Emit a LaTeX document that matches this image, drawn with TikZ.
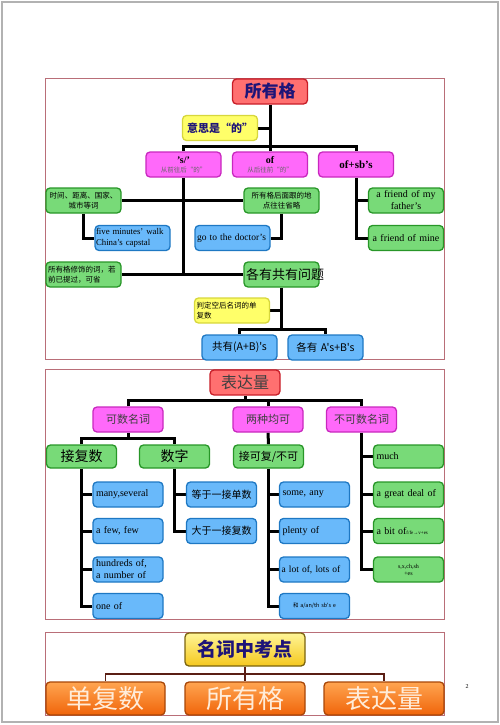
\documentclass[tikz,border=0pt]{standalone}
\usepackage{fontspec}
\setmainfont{Liberation Serif}
\newfontfamily\cjk{Noto Sans CJK SC}
\usetikzlibrary{backgrounds}
\definecolor{titlered}{RGB}{255,112,112}
\definecolor{titleline}{RGB}{200,30,40}
\definecolor{pinkfill}{RGB}{255,105,250}
\definecolor{pinkline}{RGB}{200,40,190}
\definecolor{greenfill}{RGB}{120,218,120}
\definecolor{greenline}{RGB}{40,150,40}
\definecolor{bluefill}{RGB}{105,185,250}
\definecolor{blueline}{RGB}{30,120,195}
\definecolor{yelfill}{RGB}{255,255,105}
\definecolor{yelline}{RGB}{215,215,60}
\definecolor{navy}{RGB}{30,20,120}
\definecolor{framered}{RGB}{185,110,120}
\definecolor{orangetop}{RGB}{255,165,80}
\definecolor{orangebot}{RGB}{240,100,10}
\definecolor{goldtop}{RGB}{255,245,150}
\definecolor{goldbot}{RGB}{245,200,30}
\definecolor{brownline}{RGB}{90,30,20}

\begin{document}
\begin{tikzpicture}[x=1pt, y=-1pt,
  base/.style={rounded corners=4pt, line width=1.3pt, inner sep=1.5pt, minimum width=75pt, minimum height=25pt, text width=71pt},
  titlebox/.style={base, draw=titleline, fill=titlered, align=center},
  pinkbox/.style={base, draw=pinkline, fill=pinkfill, align=center},
  greenbox/.style={base, draw=greenline, fill=greenfill, align=center},
  bluebox/.style={base, draw=blueline, fill=bluefill, align=left},
  yelbox/.style={base, draw=yelline, fill=yelfill, align=left},
  orangebox/.style={base, draw=orangebot!70!black, top color=orangetop, bottom color=orangebot, align=center, minimum width=120pt, minimum height=33pt, text width=114pt, text=orange!15, font=\cjk\fontsize{26}{28}\selectfont},
  link/.style={line width=3pt},
  thinlink/.style={line width=1.8pt, draw=brownline},
  frame/.style={draw=framered, line width=0.9pt},
  small/.style={font=\cjk\fontsize{7.5}{10}\selectfont},
  eng/.style={font=\fontsize{10}{12}\selectfont}
]
  \useasboundingbox (0,0) rectangle (500,725);
  \draw[gray!60, line width=2pt] (2,2) rectangle (498,722);
  \draw[frame] (45,78) rectangle (444,359);
  \draw[frame] (45,369) rectangle (444,619);
  \draw[frame] (45,632) rectangle (444,715);
  \node[font=\fontsize{6}{7}\selectfont] (pagenum) at (467,687) {2};

  \node[titlebox, text=navy, font=\cjk\fontsize{17}{20}\selectfont\bfseries] (poss) at (270,91.5) {所有格};
  \node[yelbox, align=center, text=navy, font=\cjk\fontsize{11}{13}\selectfont\bfseries] (meaning) at (220,128) {意思是“的”};
  \node[pinkbox, font=\fontsize{10}{10}\selectfont\bfseries] (sprime) at (183.5,164.5) {'s/'\\[-1pt]{\cjk\mdseries\fontsize{6.5}{8}\selectfont\color{black!60}从前往后“的”}};
  \node[pinkbox, font=\fontsize{10}{10}\selectfont\bfseries] (ofnode) at (270,164.5) {of\\[-1pt]{\cjk\mdseries\fontsize{6.5}{8}\selectfont\color{black!60}从后往前“的”}};
  \node[pinkbox, font=\fontsize{11}{12}\selectfont\bfseries] (ofsb) at (356,164.5) {of+sb's};
  \node[greenbox, small] (timeword) at (83.5,200.5) {时间、距离、国家、\\城市等词};
  \node[greenbox, small] (placeword) at (281.5,200.5) {所有格后面跟的地\\点往往省略};
  \node[greenbox, eng] (friendmy) at (406,200.5) {a friend of my\\father's};
  \node[bluebox, inner sep=1pt, text width=73pt, font=\fontsize{8.8}{11}\selectfont] (walk) at (132.5,238) {five minutes' walk\\China's capstal};
  \node[bluebox, font=\fontsize{9.5}{11}\selectfont] (doctor) at (232.5,238) {go to the doctor's\\[6pt]};
  \node[greenbox, eng] (friendmine) at (406,238) {a friend of mine\\[6pt]};
  \node[greenbox, small, align=left] (omitword) at (83.5,274.5) {所有格修饰的词，若\\前已提过，可省};
  \node[greenbox, font=\cjk\fontsize{13}{15}\selectfont] (eachboth) at (281.5,274.5) {各有共有问题};
  \node[yelbox, small] (judge) at (232,310.5) {判定空后名词的单\\复数};
  \node[bluebox, align=center, font=\cjk\fontsize{10.5}{12}\selectfont] (together) at (239.5,347.5) {共有(A+B)'s};
  \node[bluebox, align=center, font=\cjk\fontsize{10.5}{12}\selectfont] (separate) at (325.5,347.5) {各有 A's+B's};
  \coordinate (possbar) at (270,146);
  \coordinate (eachbar) at (281.5,329);

  \node[titlebox, text width=64pt, minimum width=70pt, text=black!75, font=\cjk\fontsize{16}{18}\selectfont] (amount) at (245,382.5) {表达量};
  \node[pinkbox, text width=64pt, minimum width=70pt, text=black!75, font=\cjk\fontsize{11}{13}\selectfont] (countn) at (128,419.5) {可数名词};
  \node[pinkbox, text width=64pt, minimum width=70pt, text=black!75, font=\cjk\fontsize{11}{13}\selectfont] (bothok) at (268,419.5) {两种均可};
  \node[pinkbox, text width=64pt, minimum width=70pt, text=black!75, font=\cjk\fontsize{11}{13}\selectfont] (uncountn) at (361.5,419.5) {不可数名词};
  \node[greenbox, text width=64pt, minimum width=70pt, minimum height=23pt, font=\cjk\fontsize{14}{16}\selectfont] (plural) at (81.5,456.5) {接复数};
  \node[greenbox, text width=64pt, minimum width=70pt, minimum height=23pt, font=\cjk\fontsize{14}{16}\selectfont] (numeral) at (174.5,456.5) {数字};
  \node[greenbox, text width=64pt, minimum width=70pt, minimum height=23pt, font=\cjk\fontsize{11}{13}\selectfont] (either) at (268.5,456.5) {接可复/不可};
  \node[greenbox, align=left, text width=64pt, minimum width=70pt, minimum height=23pt, eng] (much) at (408.5,456.5) {much\\[3pt]};
  \node[greenbox, align=left, text width=64pt, minimum width=70pt, eng] (greatdeal) at (408.5,494.5) {a great deal of\\[5pt]};
  \node[greenbox, align=left, text width=64pt, minimum width=70pt, eng] (bitof) at (408.5,531) {a bit of{\fontsize{5}{6}\selectfont f/fe→v+es}\\[5pt]};
  \node[greenbox, text width=64pt, minimum width=70pt, font=\fontsize{6}{7}\selectfont] (sxch) at (408.5,569.5) {s,x,ch,sh\\+es\\[3pt]};
  \node[bluebox, text width=64pt, minimum width=70pt, eng] (manysev) at (128,494.5) {many,several\\[5pt]};
  \node[bluebox, text width=64pt, minimum width=70pt, eng] (afew) at (128,531) {a few, few\\[5pt]};
  \node[bluebox, text width=64pt, minimum width=70pt, eng] (hundreds) at (128,569.5) {hundreds of,\\a number of};
  \node[bluebox, text width=64pt, minimum width=70pt, eng] (oneof) at (128,606) {one of\\[5pt]};
  \node[bluebox, align=center, text width=64pt, minimum width=70pt, font=\cjk\fontsize{10}{12}\selectfont] (equalone) at (221.5,494.5) {等于一接单数};
  \node[bluebox, align=center, text width=64pt, minimum width=70pt, font=\cjk\fontsize{10}{12}\selectfont] (morethan) at (221.5,531) {大于一接复数};
  \node[bluebox, text width=64pt, minimum width=70pt, eng] (someany) at (314.5,494.5) {some, any\\[5pt]};
  \node[bluebox, text width=64pt, minimum width=70pt, eng] (plenty) at (314.5,531) {plenty of\\[5pt]};
  \node[bluebox, inner sep=1pt, text width=66pt, minimum width=70pt, font=\fontsize{9.5}{12}\selectfont] (alotof) at (314.5,569.5) {a lot of, lots of\\[5pt]};
  \node[bluebox, align=center, text width=64pt, minimum width=70pt, font=\cjk\fontsize{5.5}{7}\selectfont] (anan) at (314.5,606) {和 a/an/th sb's e\\[6pt]};
  \coordinate (amtbar) at (245,400);
  \coordinate (countbar) at (128,438);

  \node[base, draw=goldbot!50!black, top color=goldtop, bottom color=goldbot, align=center, minimum width=120pt, minimum height=33pt, text width=114pt, text=navy, font=\cjk\fontsize{19}{21}\selectfont\bfseries] (keypts) at (245,649.5) {名词中考点};
  \node[orangebox, minimum width=119pt, text width=113pt] (sgpl) at (105.5,698.5) {单复数};
  \node[orangebox] (possk) at (245,698.5) {所有格};
  \node[orangebox] (amountk) at (384,698.5) {表达量};
  \coordinate (keybar) at (245,674);

  \begin{scope}[on background layer]
    \draw[link] (poss.south) -- (possbar);
    \draw[link] (sprime.north) |- (possbar) -| (ofsb.north);
    \draw[link] (possbar) -- (ofnode.north);
    \draw[link] (meaning.east) -- (meaning.east -| poss.south);
    \draw[link] (sprime.south) -- (sprime.south |- omitword.east);
    \draw[link] (timeword.east) -- (placeword.west);
    \draw[link] (omitword.east) -- (eachboth.west);
    \draw[link] (timeword.south) |- (walk.west);
    \draw[link] (placeword.south) |- (doctor.east);
    \draw[link] (ofsb.south) |- (friendmine.west);
    \draw[link] (ofsb.south |- friendmy.west) -- (friendmy.west);
    \draw[link] (eachboth.south) -- (eachbar);
    \draw[link] (together.north) |- (eachbar) -| (separate.north);
    \draw[link] (judge.east) -- (judge.east -| eachboth.south);

    \draw[link] (amount.south) -- (amtbar);
    \draw[link] (countn.north) |- (amtbar) -| (uncountn.north);
    \draw[link] (bothok.north) -- (bothok.north |- amtbar);
    \draw[link] (countn.south) -- (countbar);
    \draw[link] (plural.north) |- (countbar) -| (numeral.north);
    \draw[link] (bothok.south) -- (either.north);
    \draw[link] (plural.south) |- (oneof.west);
    \draw[link] (plural.south |- manysev.west) -- (manysev.west);
    \draw[link] (plural.south |- afew.west) -- (afew.west);
    \draw[link] (plural.south |- hundreds.west) -- (hundreds.west);
    \draw[link] (numeral.south) |- (morethan.west);
    \draw[link] (numeral.south |- equalone.west) -- (equalone.west);
    \draw[link] (either.south) |- (anan.west);
    \draw[link] (either.south |- someany.west) -- (someany.west);
    \draw[link] (either.south |- plenty.west) -- (plenty.west);
    \draw[link] (either.south |- alotof.west) -- (alotof.west);
    \draw[link] (uncountn.south) |- (sxch.west);
    \draw[link] (uncountn.south |- much.west) -- (much.west);
    \draw[link] (uncountn.south |- greatdeal.west) -- (greatdeal.west);
    \draw[link] (uncountn.south |- bitof.west) -- (bitof.west);

    \draw[thinlink] (keypts.south) -- (keybar);
    \draw[thinlink] (sgpl.north) |- (keybar) -| (amountk.north);
    \draw[thinlink] (keybar) -- (possk.north);
  \end{scope}
\end{tikzpicture}
\end{document}
